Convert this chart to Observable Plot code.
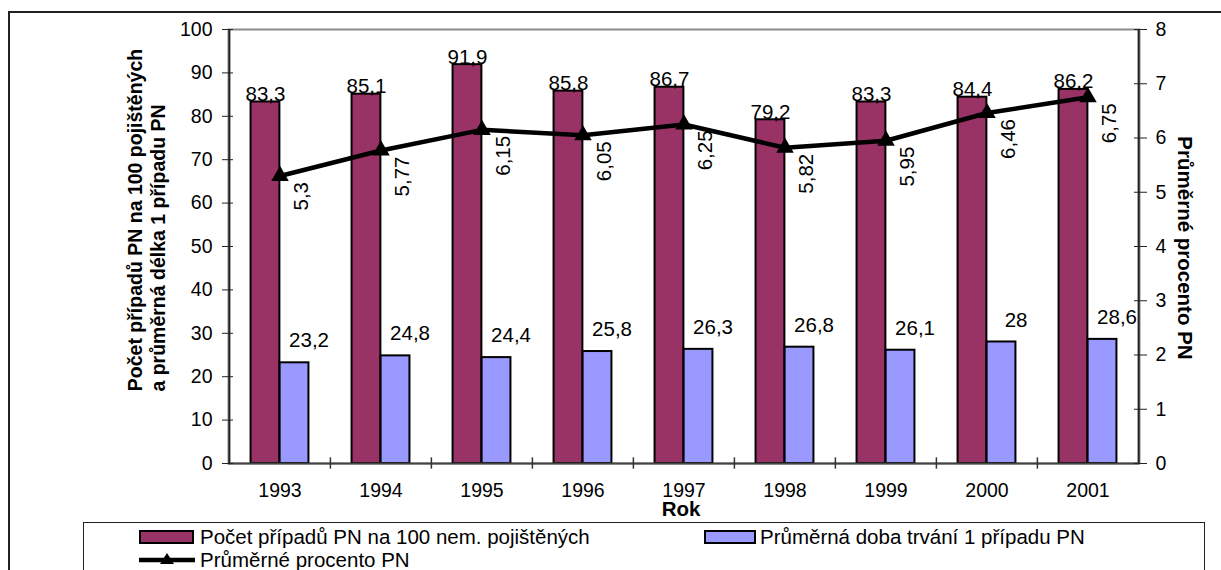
<!DOCTYPE html>
<html>
<head>
<meta charset="utf-8">
<script src="https://cdn.jsdelivr.net/npm/d3@7"></script>
<script src="https://cdn.jsdelivr.net/npm/@observablehq/plot@0.6"></script>
<style>
  html, body { margin: 0; padding: 0; background: #fff; overflow: hidden; }
  #chart { position: relative; width: 1221px; height: 570px; overflow: hidden;
           font-family: "Liberation Sans", Arial, sans-serif; color: #000; }
  #border { position: absolute; left: 8px; top: 11px; width: 1240px; height: 620px;
            border: 2px solid #222; box-sizing: border-box; }
  #plot { position: absolute; left: 0; top: 0; }
  #legend { position: absolute; left: 83px; top: 522px; width: 1122px; height: 80px;
            border: 1px solid #222; box-sizing: border-box; background: #fff; }
  .sw { position: absolute; width: 55px; height: 14px; border: 2.5px solid #000; box-sizing: border-box; }
  .lt { position: absolute; font-size: 20.5px; line-height: 22px; white-space: nowrap; }
  .ls { position: absolute; }
</style>
</head>
<body>
<div id="chart">
  <div id="border"></div>
  <div id="plot"></div>
  <div id="legend">
    <div class="sw" style="left:55px;top:7px;background:#993366"></div>
    <div class="lt" style="left:116px;top:3px">Počet případů PN na 100 nem. pojištěných</div>
    <div class="sw" style="left:620px;top:7px;width:52px;background:#9999ff"></div>
    <div class="lt" style="left:676px;top:3px">Průměrná doba trvání 1 případu PN</div>
    <svg class="ls" style="left:55px;top:28px" width="56" height="18">
      <line x1="0" y1="9" x2="56" y2="9" stroke="#000" stroke-width="4.5"/>
      <path d="M28,2 L35,13 L21,13 Z" fill="#000"/>
    </svg>
    <div class="lt" style="left:116px;top:26px">Průměrné procento PN</div>
  </div>
</div>
<script>
// Years on the category axis
const years = ["1993", "1994", "1995", "1996", "1997", "1998", "1999", "2000", "2001"];
// Sick-leave cases per 100 insured persons
const casesPer100 = [83.3, 85.1, 91.9, 85.8, 86.7, 79.2, 83.3, 84.4, 86.2];
// Average duration of one case (days)
const avgDuration = [23.2, 24.8, 24.4, 25.8, 26.3, 26.8, 26.1, 28, 28.6];
// Average sick-leave percentage (right axis)
const avgPercent = [5.3, 5.77, 6.15, 6.05, 6.25, 5.82, 5.95, 6.46, 6.75];
// Tick values of both value axes
const leftTicks = [0, 10, 20, 30, 40, 50, 60, 70, 80, 90, 100];
const rightTicks = [0, 1, 2, 3, 4, 5, 6, 7, 8];

const leftMax = 100, rightMax = 8;
const k = leftMax / rightMax; // right-axis units mapped onto the left scale

const rows = years.map((year, i) => ({
  year, cases: casesPer100[i], dur: avgDuration[i], pct: avgPercent[i], pctY: avgPercent[i] * k
}));
const fmt = v => String(v).replace(".", ",");

const W = 1221, H = 520, ML = 228, MR = 82, MT = 29, MB = 57;
const step = (W - ML - MR) / years.length;
const barW = step * 0.287;
const font = '"Liberation Sans", Arial, sans-serif';
const tickFont = 19.5;

const chart = Plot.plot({
  width: W, height: H,
  marginLeft: ML, marginRight: MR, marginTop: MT, marginBottom: MB,
  style: { fontFamily: font, fontSize: "19.5px", color: "#000", background: "transparent", overflow: "visible" },
  x: { type: "band", domain: years, padding: 0 },
  y: { domain: [0, leftMax] },
  marks: [
    Plot.frame({ stroke: "#8c8c8c", strokeWidth: 2 }),
    Plot.barY(rows, { x: "year", y: "cases", fill: "#993366", stroke: "#000", strokeWidth: 2,
      insetLeft: step / 2 - barW, insetRight: step / 2 }),
    Plot.barY(rows, { x: "year", y: "dur", fill: "#9999ff", stroke: "#000", strokeWidth: 2,
      insetLeft: step / 2, insetRight: step / 2 - barW }),
    Plot.ruleY([0], { stroke: "#444", strokeWidth: 2 }),
    Plot.ruleX([years[0]], { dx: -step / 2, y1: 0, y2: leftMax, stroke: "#222", strokeWidth: 2 }),
    Plot.ruleX([years[years.length - 1]], { dx: step / 2, y1: 0, y2: leftMax, stroke: "#222", strokeWidth: 2 }),
    Plot.ruleX(years.slice(1), { dx: -step / 2, y1: -1.3, y2: 1.3, stroke: "#333", strokeWidth: 1.5 }),
    Plot.lineY(rows, { x: "year", y: "pctY", stroke: "#000", strokeWidth: 4.5 }),
    Plot.dot(rows, { x: "year", y: "pctY", symbol: "triangle", r: 6.5, fill: "#000", stroke: null }),
    Plot.text(rows, { x: "year", y: "cases", text: d => fmt(d.cases), dx: -barW / 2, dy: -1,
      lineAnchor: "bottom", fontSize: 20.5, fill: "#000" }),
    Plot.text(rows, { x: "year", y: "dur", text: d => fmt(d.dur), dx: barW, dy: -22,
      lineAnchor: "middle", fontSize: 20.5, fill: "#000" }),
    Plot.text(rows, { x: "year", y: "pctY", text: d => fmt(d.pct), rotate: -90, textAnchor: "end",
      lineAnchor: "middle", dx: 21, dy: 6, fontSize: 20.5, fill: "#000" }),
    Plot.axisY(leftTicks, { anchor: "left", tickSize: 11, dx: 5, tickPadding: 10, label: null,
      stroke: "#222", fontSize: tickFont }),
    Plot.axisY(rightTicks.map(v => v * k), { anchor: "right", tickSize: 13, dx: -6, tickPadding: 9,
      tickFormat: v => Math.round(v / k), label: null, stroke: "#222", fontSize: tickFont }),
    Plot.axisX({ tickSize: 0, tickPadding: 20, label: null, fontSize: tickFont })
  ]
});
document.getElementById("plot").appendChild(chart);

// Axis titles
const svg = d3.select(chart);
const title = (x, y, rot, str, size) => svg.append("text")
  .attr("transform", `translate(${x},${y}) rotate(${rot})`)
  .attr("text-anchor", "middle").attr("dominant-baseline", "central")
  .attr("font-family", font).attr("font-weight", "bold").attr("font-size", size)
  .attr("fill", "#000").text(str);
title(135, 220, -90, "Počet případů PN na 100 pojištěných", 19.5);
title(158, 248, -90, "a průměrná délka 1 případu PN", 19.5);
title(1185, 248, 90, "Průměrné procento PN", 20.5);
title(681, 508, 0, "Rok", 20.5);
</script>
</body>
</html>
